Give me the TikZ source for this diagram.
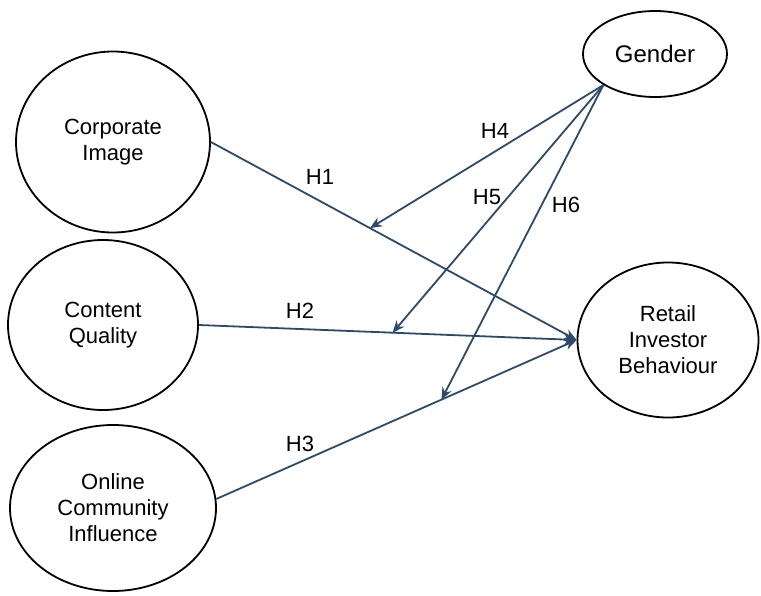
\documentclass[tikz,border=0pt]{standalone}
\usepackage{fontspec}
\setmainfont{Liberation Sans}
\usetikzlibrary{shapes.geometric,arrows.meta,calc}
\definecolor{lineblue}{RGB}{45,75,105}
\begin{document}
\begin{tikzpicture}[x=0.5pt,y=-0.5pt,
  var/.style={ellipse, draw=black, line width=0.9pt, inner sep=0pt, align=center,
              font=\fontsize{11}{13}\selectfont},
  link/.style={draw=lineblue, line width=0.9pt, -{Stealth[length=6pt,width=5pt]}},
  hlab/.style={font=\fontsize{11}{13}\selectfont, inner sep=0pt}]
\useasboundingbox (0,0) rectangle (761,595);
\node[var, minimum width=97pt, minimum height=90.5pt] (ci) at (113,142) {Corporate\\Image};
\node[var, minimum width=95pt, minimum height=85pt] (cq) at (103,325) {Content\\Quality};
\node[var, minimum width=103pt, minimum height=83pt] (oci) at (113,508) {Online\\Community\\Influence};
\node[var, minimum width=72pt, minimum height=43pt, font=\fontsize{12}{14}\selectfont] (gen) at (655,54) {Gender};
\node[var, minimum width=90.5pt, minimum height=77.5pt] (rib) at (668,340) {Retail\\Investor\\Behaviour};

\coordinate (gs) at (gen.211);
\coordinate (s3) at (oci.5);

\draw[link] (ci.east) -- (rib.west);
\draw[link] (cq.east) -- (rib.west);
\draw[link] (s3) -- (rib.west);

\coordinate (p1) at ($(ci.east)!0.435!(rib.west)$);
\coordinate (p2) at ($(cq.east)!0.513!(rib.west)$);
\coordinate (p3) at ($(s3)!0.625!(rib.west)$);

\draw[link] (gs) -- (p1);
\draw[link] (gs) -- (p2);
\draw[link] (gs) -- (p3);

\node[hlab] (h1) at (320,177) {H1};
\node[hlab] (h2) at (300,311) {H2};
\node[hlab] (h3) at (300,444) {H3};
\node[hlab] (h4) at (495,131) {H4};
\node[hlab] (h5) at (487,197) {H5};
\node[hlab] (h6) at (566,205) {H6};
\end{tikzpicture}
\end{document}
